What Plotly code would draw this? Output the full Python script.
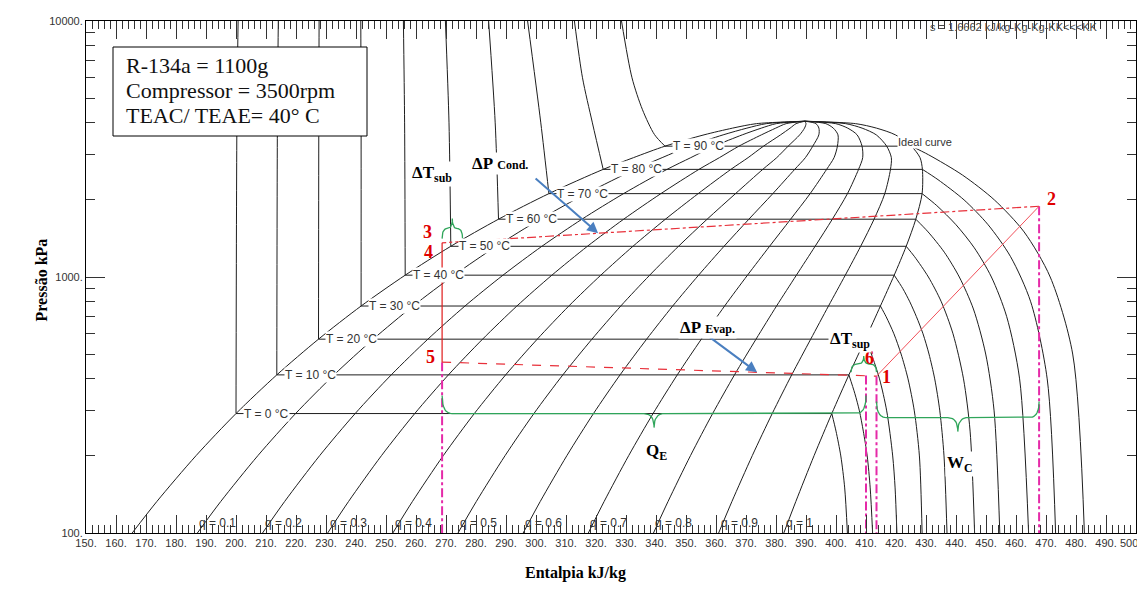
import numpy as np
import plotly.graph_objects as go

# ---------------- data ----------------
# saturation curve of R-134a (kPa, kJ/kg)
P_sat = [100, 132.7, 200.6, 292.8, 414.6, 571.7, 770.2, 1016.6, 1318.1, 1681.8,
         2116.8, 2633.2, 2926.2, 3244.2, 3591.5, 3815, 3972.4, 4059.3]
h_liq = [165.4, 173.6, 186.7, 200.0, 213.6, 227.5, 241.7, 256.4, 271.6, 287.5,
         304.3, 322.4, 332.5, 343.0, 356.0, 365.5, 373.5, 389.6]
h_vap = [382.6, 386.6, 392.7, 398.6, 404.3, 409.8, 414.8, 419.4, 423.4, 426.6,
         428.7, 428.8, 428.0, 425.1, 419.8, 413.5, 406.5, 389.6]

# isotherms
iso_T = [0, 10, 20, 30, 40, 50, 60, 70, 80, 90]
iso_Psat = [292.8, 414.6, 571.7, 770.2, 1016.6, 1318.1, 1681.8, 2116.8, 2633.2, 3244.2]
iso_hf = [200.0, 213.6, 227.5, 241.7, 256.4, 271.6, 287.5, 304.3, 322.4, 343.0]
iso_hg = [398.6, 404.3, 409.8, 414.8, 419.4, 423.4, 426.6, 428.7, 428.8, 425.1]

# compressed-liquid part of the isotherms (above the liquid line)
liq_P = [[292.8, 4000, 10000], [414.6, 4000, 10000], [571.7, 4000, 10000],
         [770.2, 4000, 10000], [1016.6, 4000, 10000], [1318.1, 4000, 10000],
         [1681.8, 4000, 10000], [2116.8, 4000, 10000],
         [2633.2, 4000, 6000, 10000], [3244.2, 3600, 4500, 6000, 10000]]
liq_h = [[200.0, 200.3, 200.7], [213.6, 213.8, 214.1], [227.5, 227.6, 227.7],
         [241.7, 241.7, 241.6], [256.4, 256.2, 255.8], [271.6, 271.0, 269.8],
         [287.5, 286.4, 284.2], [304.3, 301.6, 297.2],
         [322.4, 318.8, 315.5, 312.8], [343.0, 339.5, 335.5, 332.0, 328.5]]

# superheated part of the isotherms
sup_P = [[292.8, 250, 200, 150, 100],
         [414.6, 350, 300, 250, 200, 150, 100],
         [571.7, 500, 400, 300, 200, 150, 100],
         [770.2, 700, 600, 500, 400, 300, 200, 100],
         [1016.6, 900, 800, 700, 600, 500, 400, 300, 200, 100],
         [1318.1, 1200, 1000, 800, 600, 400, 250, 100],
         [1681.8, 1500, 1250, 1000, 750, 500, 300, 100],
         [2116.8, 1900, 1600, 1300, 1000, 700, 400, 100],
         [2633.2, 2400, 2000, 1600, 1200, 800, 400, 100],
         [3244.2, 3000, 2500, 2000, 1500, 1000, 500, 100]]
sup_h = [[398.6, 400.0, 401.6, 402.9, 403.8],
         [404.3, 406.3, 407.8, 409.1, 410.4, 411.4, 412.2],
         [409.8, 411.8, 414.5, 416.9, 418.9, 419.7, 420.3],
         [414.8, 416.7, 419.3, 421.7, 424.0, 426.1, 427.8, 428.7],
         [419.4, 422.3, 424.6, 426.8, 429.0, 431.0, 432.9, 434.6, 436.0, 437.0],
         [423.4, 426.2, 430.8, 435.1, 439.0, 442.5, 444.7, 446.2],
         [426.6, 430.7, 436.1, 441.1, 445.8, 449.9, 452.7, 454.6],
         [428.7, 433.6, 440.0, 446.1, 451.8, 456.9, 461.2, 464.2],
         [428.8, 434.0, 442.7, 450.7, 458.2, 464.9, 470.4, 473.2],
         [425.1, 430.9, 442.2, 452.8, 462.7, 471.4, 478.9, 482.8]]

# vapour quality lines
q_vals = [0.1, 0.2, 0.3, 0.4, 0.5, 0.6, 0.7, 0.8, 0.9]

# refrigeration cycle points
cyc_name = ["1", "2", "3", "4", "5", "6"]
cyc_h = [413.5, 467.7, 275.5, 268.7, 268.7, 410.0]
cyc_P = [410, 1890, 1375, 1360, 465, 412]
h_gsat_evap = 405.0   # saturated vapour at evaporator exit (start of superheat)

x_ticks = list(range(150, 501, 10))
y_ticks = [100, 1000, 10000]
y_minor = [200, 300, 400, 500, 600, 700, 800, 900,
           2000, 3000, 4000, 5000, 6000, 7000, 8000, 9000]

info_lines = ["R-134a = 1100g", "Compressor = 3500rpm", "TEAC/ TEAE= 40° C"]

# ---------------- geometry helpers (page pixel <-> data) ----------------
PAGE_W, PAGE_H = 1145, 594
BODY = 8                              # default page body margin in front of the figure div
W, H = PAGE_W - BODY, PAGE_H - BODY
X0, X1 = 150, 500
PXL, PXR, PYT, PYB = 86, 1136, 21, 533   # plot area in page pixels
ML, MT = PXL - BODY, PYT - BODY
MR, MB = W - (PXR - BODY), H - (PYB - BODY)
kx = (X1 - X0) / (PXR - PXL)       # kJ/kg per px
ky = 2.0 / (PYB - PYT)             # decades per px

def d2px(h, P):
    return PXL + (h - X0) / kx, PYB - (np.log10(P) - 2) / ky

def px2d(x, y):
    return X0 + (x - PXL) * kx, 10 ** (2 + (PYB - y) * ky)

def pxp(x, y):
    return (x - PXL) / (PXR - PXL), (PYB - y) / (PYB - PYT)

BLACK = "#1e1e1e"
fig = go.Figure()

def line(h, P, color=BLACK, width=1, dash="solid", shape="spline"):
    fig.add_trace(go.Scatter(x=h, y=P, mode="lines", hoverinfo="skip",
                             line=dict(color=color, width=width, dash=dash,
                                       shape=shape, smoothing=0.8)))

# saturation dome
line(h_liq + h_vap[::-1], P_sat + P_sat[::-1])
# quality lines
hl, hv = np.array(h_liq), np.array(h_vap)
for q in q_vals:
    line(list(hl + q * (hv - hl)), P_sat)
# isotherms
for i, T in enumerate(iso_T):
    line([iso_hf[i], iso_hg[i]], [iso_Psat[i]] * 2, shape="linear")
    line(liq_h[i], liq_P[i])
    line(sup_h[i], sup_P[i])

# ---------------- cycle ----------------
c = {n: (cyc_h[i], cyc_P[i]) for i, n in enumerate(cyc_name)}
MAG = "#e52aa8"
for n in ["5", "6", "1", "2"]:
    line([c[n][0], c[n][0]], [c[n][1], 100], color=MAG, width=2, dash="dashdot", shape="linear")
RED = "#e8303a"
line([c["2"][0], c["3"][0], c["4"][0]], [c["2"][1], c["3"][1], c["4"][1]],
     color=RED, width=1.2, dash="dashdot", shape="linear")
line([c["4"][0], c["5"][0]], [c["4"][1], c["5"][1]], color="#e01a1a", width=1.2, shape="linear")
line([c["5"][0], c["6"][0], c["1"][0]], [c["5"][1], c["6"][1], c["1"][1]],
     color=RED, width=1.2, dash="dash", shape="linear")
line([c["1"][0], c["2"][0]], [c["1"][1], c["2"][1]], color="#f0505a", width=1, shape="linear")

# ---------------- braces ----------------
GREEN = "#2fa55a"

def brace(h0, h1, P_base, dy_px, arm, tip, up):
    x0, yb = d2px(h0, P_base)
    x1, _ = d2px(h1, P_base)
    yb = yb + dy_px
    s = -1 if up else 1
    xc = (x0 + x1) / 2
    q = min(10, (x1 - x0) / 4)
    t = np.linspace(0, 1, 12)
    def qb(p0, p1, p2):
        return [((1 - u) ** 2 * p0[0] + 2 * u * (1 - u) * p1[0] + u * u * p2[0],
                 (1 - u) ** 2 * p0[1] + 2 * u * (1 - u) * p1[1] + u * u * p2[1]) for u in t]
    pts = []
    pts += qb((x0, yb - s * arm), (x0, yb), (x0 + q, yb))
    pts += qb((xc - q, yb), (xc, yb), (xc, yb + s * tip))
    pts += qb((xc, yb + s * tip), (xc, yb), (xc + q, yb))
    pts += qb((x1 - q, yb), (x1, yb), (x1, yb - s * arm))
    hs, Ps = zip(*[px2d(x, y) for x, y in pts])
    line(list(hs), list(Ps), color=GREEN, width=1.3, shape="linear")

brace(c["4"][0], c["3"][0], c["3"][1], -13, 10, 10, up=True)
brace(h_gsat_evap, c["1"][0], c["1"][1], -12, 8, 8, up=True)
brace(c["5"][0], c["6"][0], iso_Psat[0], 0, 18, 14, up=False)
brace(c["1"][0], c["2"][0], iso_Psat[0], 4, 16, 14, up=False)

# ---------------- annotations ----------------
ann = []
shapes = []
SANS = "Liberation Sans"
SERIF = "Liberation Serif"
for i, T in enumerate(iso_T):
    ann.append(dict(x=iso_hf[i] + 2.3, y=np.log10(iso_Psat[i]), text=f"T = {T} °C",
                    xanchor="left", yanchor="middle", showarrow=False, bgcolor="white",
                    borderpad=0, font=dict(family=SANS, size=12, color="#333")))
for q in q_vals + [1]:
    hq = h_liq[0] + q * (h_vap[0] - h_liq[0])
    ann.append(dict(x=hq, y=np.log10(px2d(0, PYB - 10)[1]), text=f"q = {q:g}",
                    xanchor="left", yanchor="middle", showarrow=False,
                    font=dict(family=SANS, size=12, color="#333")))
xi, yi = px2d(897, 142)
ann.append(dict(x=xi, y=np.log10(yi), text="Ideal curve", bgcolor="white", borderpad=0,
                xanchor="left", yanchor="middle", showarrow=False,
                font=dict(family=SANS, size=11, color="#333")))

# red point labels (pixel offsets from the point)
lab_off = {"1": (10, 1), "2": (12, -7), "3": (-35, -10), "4": (-14, 9),
           "5": (-12, -5), "6": (3, -18)}
for n in cyc_name:
    h, P = c[n]
    ann.append(dict(x=h, y=np.log10(P), text=f"<b>{n}</b>", showarrow=False,
                    xshift=lab_off[n][0], yshift=-lab_off[n][1],
                    font=dict(family=SERIF, size=18, color="#e00000")))

# blue arrows pointing at the pressure-drop lines
BLUE = "#4a7fc0"
h_ac, h_ae = 320.7, 373.7
ann.append(dict(x=h_ac, y=np.interp(h_ac, [c["4"][0], c["2"][0]],
                [np.log10(c["4"][1]), np.log10(c["2"][1])]),
                ax=-64, ay=-56, text="", showarrow=True, arrowhead=2, arrowsize=1.1,
                arrowwidth=2, arrowcolor=BLUE))
ann.append(dict(x=h_ae, y=np.interp(h_ae, [c["5"][0], c["1"][0]],
                [np.log10(c["5"][1]), np.log10(c["1"][1])]),
                ax=-50, ay=-37, text="", showarrow=True, arrowhead=2, arrowsize=1.1,
                arrowwidth=2, arrowcolor=BLUE))

def px_ann(x, y, text, size=17, **kw):
    h, P = px2d(x, y)
    d = dict(x=h, y=np.log10(P), text=text, showarrow=False, bgcolor="white",
             font=dict(family=SERIF, size=size, color="black"))
    d.update(kw)
    ann.append(d)

px_ann(500, 163, "<b>ΔP</b> <b><span style='font-size:12px'>Cond.</span></b>")
px_ann(707, 327, "<b>ΔP</b> <b><span style='font-size:12px'>Evap.</span></b>")
px_ann(432, 174, "<b>ΔT</b><sub><b>sub</b></sub>")
px_ann(850, 340, "<b>ΔT</b><sub><b>sup</b></sub>")
px_ann(656, 452, "<b>Q</b><sub><b>E</b></sub>")
px_ann(960, 464, "<b>W</b><sub><b>C</b></sub>")

# info box
bx0, by0 = pxp(113, 136)
bx1, by1 = pxp(367, 47)
shapes.append(dict(type="rect", xref="paper", yref="paper", x0=bx0, y0=by0, x1=bx1, y1=by1,
                   line=dict(color="black", width=1), fillcolor="white", layer="above"))
for k, txt in enumerate(info_lines):
    tx, ty = pxp(124, 65 + 25 * k)
    ann.append(dict(xref="paper", yref="paper", x=tx, y=ty, xanchor="left", yanchor="middle",
                    text=txt, showarrow=False,
                    font=dict(family=SERIF, size=22, color="#111")))
# top-right garbled entropy label
tx, ty = pxp(928, 27)
ann.append(dict(xref="paper", yref="paper", x=tx, y=ty, xanchor="left", yanchor="middle",
                text="s = 1.6662 kJ/kg-Kg-Kg-KK<<<KK", showarrow=False,
                font=dict(family=SANS, size=11, color="#444")))
# last x tick label kept inside the page
tx, ty = pxp(PAGE_W - 2, 543)
ann.append(dict(xref="paper", yref="paper", x=tx, y=ty, xanchor="right", yanchor="middle",
                text=f"{x_ticks[-1]}.", showarrow=False,
                font=dict(family=SANS, size=11, color="#333")))
# axis titles
tx, ty = pxp(575, 584)
ann.append(dict(xref="paper", yref="paper", x=tx, y=ty, text="<b>Entalpia kJ/kg</b>",
                showarrow=False, font=dict(family=SERIF, size=16, color="black")))
tx, ty = pxp(30, 280)
ann.append(dict(xref="paper", yref="paper", x=tx, y=ty, text="<b>Pressão kPa</b>",
                textangle=-90, showarrow=False,
                font=dict(family=SERIF, size=16, color="black")))

x_text = [f"{v}." for v in x_ticks[:-1]] + [""]

fig.update_layout(
    width=W, height=H, margin=dict(l=ML, r=MR, t=MT, b=MB, autoexpand=False),
    paper_bgcolor="white", plot_bgcolor="white", showlegend=False,
    annotations=ann, shapes=shapes,
    xaxis=dict(range=[X0, X1], showgrid=False, zeroline=False, showline=True,
               automargin=False, ticklabeloverflow="allow",
               linecolor="black", linewidth=1, mirror="allticks",
               ticks="inside", ticklen=18, tickcolor="#333", tickwidth=1,
               tickvals=x_ticks, ticktext=x_text,
               tickfont=dict(family=SANS, size=11, color="#333"),
               minor=dict(dtick=2, ticks="inside", ticklen=8, tickcolor="#333")),
    yaxis=dict(type="log", range=[2, 4], showgrid=False, zeroline=False, showline=True,
               automargin=False, ticklabeloverflow="allow",
               linecolor="black", linewidth=1, mirror="allticks",
               ticks="inside", ticklen=19, tickcolor="#333",
               tickvals=y_ticks, ticktext=[f"{v}." for v in y_ticks],
               tickfont=dict(family=SANS, size=11, color="#333"),
               minor=dict(tickvals=y_minor, ticks="inside", ticklen=9, tickcolor="#333")),
)
fig.write_html("out.html")
